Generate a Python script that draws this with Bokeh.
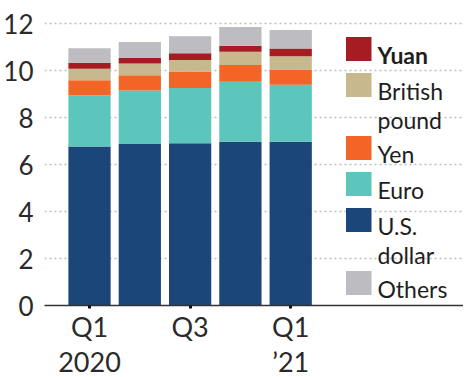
from bokeh.plotting import figure
from bokeh.models import ColumnDataSource, FixedTicker, Range1d, LinearAxis
from bokeh.core.properties import value
from bokeh.embed import file_html
from bokeh.resources import INLINE

# ---- data ----
quarters = ["Q1 2020", "Q2 2020", "Q3 2020", "Q4 2020", "Q1 2021"]
tick_quarter = {0: "Q1", 2: "Q3", 4: "Q1"}
tick_year = {0: "2020", 2: "", 4: "\u201921"}
dollar = [6.77, 6.88, 6.91, 6.98, 6.98]
euro = [2.19, 2.28, 2.36, 2.55, 2.43]
yen = [0.64, 0.65, 0.70, 0.72, 0.65]
pound = [0.49, 0.50, 0.49, 0.56, 0.56]
yuan = [0.25, 0.24, 0.29, 0.26, 0.33]
others = [0.62, 0.68, 0.72, 0.80, 0.79]
y_ticks = [0, 2, 4, 6, 8, 10, 12]

series_keys = ["dollar", "euro", "yen", "pound", "yuan", "others"]
series_names = ["U.S.\ndollar", "Euro", "Yen", "British\npound", "Yuan", "Others"]
series_colors = ["#1b4679", "#5cc6bd", "#f26527", "#c8b88e", "#a51c22", "#bcbcc1"]
legend_order = ["yuan", "pound", "yen", "euro", "dollar", "others"]

FONT = "Lato"

# ---- layout geometry ----
W, H = 463, 382
BL, BR, BT, BB = 44, 0, 14, 77
FW, FH = W - BL - BR, H - BT - BB
XPX = 50.3
X0 = -0.895
X1 = X0 + FW / XPX
Y1 = 12.4
YPX = FH / Y1

xs = list(range(len(quarters)))
source = ColumnDataSource(dict(x=xs, dollar=dollar, euro=euro, yen=yen,
                               pound=pound, yuan=yuan, others=others))

p = figure(width=W, height=H, output_backend="svg", toolbar_location=None,
           x_range=Range1d(X0, X1), y_range=Range1d(0, Y1),
           min_border_left=BL, min_border_right=BR, min_border_top=BT,
           min_border_bottom=BB)
p.outline_line_color = None
p.background_fill_color = "white"

p.vbar_stack(series_keys, x="x", width=0.84, color=series_colors,
             line_color=None, source=source)

# x axis: quarter row
xa = p.xaxis[0]
xa.ticker = FixedTicker(ticks=[0, 2, 4])
xa.major_label_overrides = tick_quarter
xa.major_label_text_font = FONT
xa.major_label_text_font_size = "27px"
xa.major_label_text_color = "#2a2a2a"
xa.major_label_standoff = 1
xa.axis_label_standoff = 0
xa.axis_line_color = "#333333"
xa.axis_line_width = 1.5
xa.major_tick_in = 0
xa.major_tick_out = 3
xa.major_tick_line_width = 3
xa.major_tick_line_color = "#111111"
xa.minor_tick_line_color = None
xa.minor_tick_out = 0

# year row (second axis, no line, no ticks)
year_axis = LinearAxis(ticker=FixedTicker(ticks=[0, 2, 4]),
                       major_label_overrides=tick_year,
                       major_label_text_font=FONT,
                       major_label_text_font_size="27px",
                       major_label_text_color="#2a2a2a",
                       major_label_standoff=-1, axis_label_standoff=0,
                       major_tick_in=0, major_tick_out=0,
                       minor_tick_in=0, minor_tick_out=0,
                       axis_line_color=None, major_tick_line_color=None,
                       minor_tick_line_color=None)
p.add_layout(year_axis, "below")

p.yaxis.ticker = FixedTicker(ticks=y_ticks)
p.yaxis.major_label_text_font = FONT
p.yaxis.major_label_text_font_size = "26px"
p.yaxis.major_label_text_color = "#2a2a2a"
p.yaxis.major_label_standoff = 5
p.yaxis.axis_line_color = None
p.yaxis.major_tick_line_color = None
p.yaxis.minor_tick_line_color = None

p.xgrid.grid_line_color = None
p.ygrid.grid_line_color = "#bdbdbd"
p.ygrid.grid_line_dash = "2 3"
p.ygrid.grid_line_width = 1.5

# ---- legend drawn manually (screen layout converted to data units) ----
FRAME_LEFT_PAGE = 48.0
FRAME_BOTTOM_PAGE = 306.0

def dx(px):  # page px -> data x
    return X0 + (px - FRAME_LEFT_PAGE) / XPX

def dy(py):  # page py -> data y
    return (FRAME_BOTTOM_PAGE - py) / YPX

name_of = dict(zip(series_keys, series_names))
color_of = dict(zip(series_keys, series_colors))
sq_left, sq_right, sq_h = 349.5, 375.0, 24.0
text_x = 381.0
top = 37.5
step, extra = 36.0, 27.0
for key in legend_order:
    lines = name_of[key].split("\n")
    p.quad(left=[dx(sq_left)], right=[dx(sq_right)], top=[dy(top)],
           bottom=[dy(top + sq_h)], color=color_of[key], line_color=None)
    for i, ln in enumerate(lines):
        p.text(x=[dx(text_x)], y=[dy(top + 18 + i * 29)], text=[ln],
               text_font=value(FONT), text_font_size="23px",
               text_font_style="bold" if key == "yuan" else "normal",
               text_color="#1e1e1e", text_baseline="alphabetic",
               text_align="left")
    top += step + extra * (len(lines) - 1)

open("out.html", "w").write(file_html(p, INLINE))
